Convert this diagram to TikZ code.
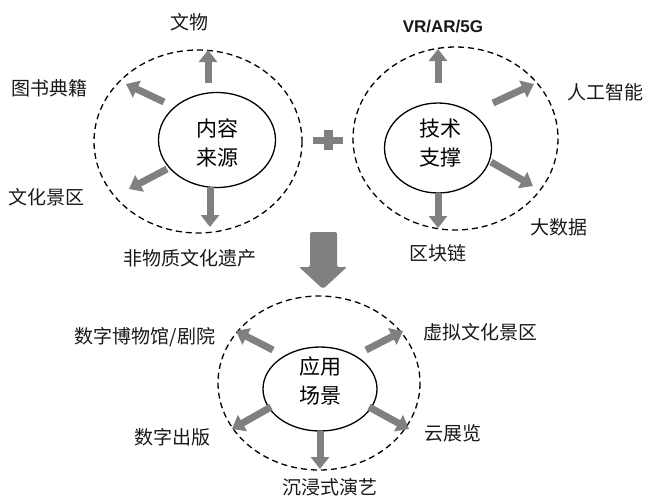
\documentclass[tikz,border=0pt]{standalone}
\usepackage{fontspec}
\newfontfamily\cjk{Noto Sans CJK SC}
\setsansfont{Liberation Sans}
\usetikzlibrary{arrows.meta,shapes.geometric}
\definecolor{arrowgray}{RGB}{128,128,128}
\tikzset{
  inner/.style={draw=black, line width=1.3pt, ellipse, inner sep=0pt, fill=white},
  outer/.style={draw=black, line width=1.3pt, dash pattern=on 6pt off 4pt},
  blockarrow/.style={draw=arrowgray, line width=7pt, -{Triangle[width=18pt,length=12pt]}},
  lbl/.style={font=\cjk\fontsize{19}{22}\selectfont, text=black!90, inner sep=1pt},
  ctr/.style={font=\cjk\fontsize{21}{29}\selectfont, align=center},
}
\begin{document}
\begin{tikzpicture}[x=1pt,y=-1pt]
\useasboundingbox (0,0) rectangle (645,499);
% dashed outer ellipses
\draw[outer] (198,141.5) ellipse [x radius=104, y radius=91.5];
\draw[outer] (455.5,138.5) ellipse [x radius=102.5, y radius=91.5];
\draw[outer] (319,383) ellipse [x radius=101, y radius=87];
% inner circles
\node[inner, minimum width=117pt, minimum height=95pt] (c1) at (217,140) {};
\node[ctr] (t1) at (217,143) {内容\\来源};
\node[inner, minimum width=107pt, minimum height=90pt] (c2) at (438,148) {};
\node[ctr] (t2) at (440,143) {技术\\支撑};
\node[inner, minimum width=114pt, minimum height=84pt] (c3) at (320,389) {};
\node[ctr] (t3) at (320,381) {应用\\场景};
% labels
\node[lbl] (l1) at (189,22) {文物};
\node[lbl] (l2) at (49,88) {图书典籍};
\node[lbl] (l3) at (47,197) {文化景区};
\node[lbl] (l4) at (190,258) {非物质文化遗产};
\node[font=\sffamily\bfseries\fontsize{17}{20}\selectfont, text=black!90] (r1) at (443,27) {VR/AR/5G};
\node[lbl] (r2) at (605,92) {人工智能};
\node[lbl] (r3) at (559,227) {大数据};
\node[lbl] (r4) at (438,253) {区块链};
\node[lbl] (b1) at (145,337) {数字博物馆/剧院};
\node[lbl] (b2) at (480,332) {虚拟文化景区};
\node[lbl] (b3) at (172,437) {数字出版};
\node[lbl] (b4) at (453,433) {云展览};
\node[lbl] (b5) at (330,487) {沉浸式演艺};
% arrow end coordinates
\coordinate (a1s) at (208,83);  \coordinate (a1e) at (208,50);
\coordinate (a2s) at (164,102); \coordinate (a2e) at (126,84);
\coordinate (a3s) at (167,169); \coordinate (a3e) at (129,189);
\coordinate (a4s) at (210,187); \coordinate (a4e) at (210,227);
\coordinate (s1s) at (438,83);  \coordinate (s1e) at (438,49);
\coordinate (s2s) at (493,103); \coordinate (s2e) at (534,84);
\coordinate (s3s) at (491,162); \coordinate (s3e) at (533,186);
\coordinate (s4s) at (438,193); \coordinate (s4e) at (438,228);
\coordinate (u1s) at (273,350); \coordinate (u1e) at (236,331);
\coordinate (u2s) at (366,350); \coordinate (u2e) at (403,331);
\coordinate (u3s) at (271,407); \coordinate (u3e) at (232,429);
\coordinate (u4s) at (369,407); \coordinate (u4e) at (409,429);
\coordinate (u5s) at (320,431); \coordinate (u5e) at (320,469);
\foreach \a in {a1,a2,a3,a4,s1,s2,s3,s4,u1,u2,u3,u4,u5}{
  \draw[blockarrow] (\a s) -- (\a e);
}
% plus sign
\coordinate (plus) at (328,140);
\fill[arrowgray] ([xshift=-15pt,yshift=-3.5pt]plus) rectangle ([xshift=15pt,yshift=3.5pt]plus);
\fill[arrowgray] ([xshift=-4.5pt,yshift=-10pt]plus) rectangle ([xshift=4.5pt,yshift=10pt]plus);
% big down arrow
\coordinate (big) at (323,232);
\fill[arrowgray, rounded corners=2pt] (310,232) -- (337,232) -- (337,267) -- (347,267) -- (323,289) -- (299,267) -- (310,267) -- cycle;
\end{tikzpicture}
\end{document}
